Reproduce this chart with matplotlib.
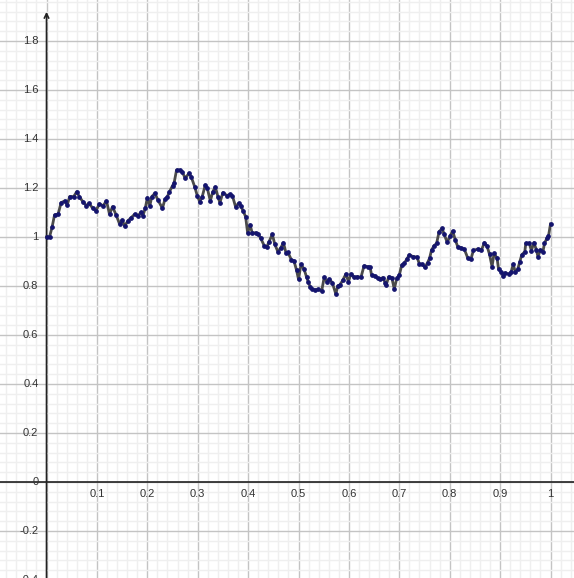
import matplotlib.pyplot as plt
import numpy as np

plt.rcParams['font.family'] = ['Liberation Sans', 'DejaVu Sans']

# sample path of the walk, x in [0, 1]
xs = [0.000, 0.006, 0.011, 0.016, 0.023, 0.029, 0.036, 0.041, 0.046, 0.054,
      0.060, 0.065, 0.072, 0.079, 0.084, 0.092, 0.098, 0.105, 0.112, 0.119,
      0.125, 0.131, 0.138, 0.145, 0.150, 0.155, 0.162, 0.168, 0.175, 0.182,
      0.187, 0.191, 0.196, 0.200, 0.205, 0.209, 0.215, 0.221, 0.230, 0.235,
      0.240, 0.244, 0.250, 0.253, 0.258, 0.264, 0.269, 0.275, 0.283, 0.287,
      0.294, 0.299, 0.304, 0.309, 0.315, 0.319, 0.325, 0.330, 0.335, 0.340,
      0.344, 0.350, 0.358, 0.364, 0.369, 0.375, 0.381, 0.385, 0.390, 0.395,
      0.399, 0.404, 0.408, 0.415, 0.420, 0.425, 0.432, 0.437, 0.441, 0.448,
      0.453, 0.459, 0.465, 0.470, 0.475, 0.479, 0.486, 0.491, 0.496, 0.500,
      0.505, 0.511, 0.516, 0.519, 0.523, 0.527, 0.533, 0.539, 0.546, 0.551,
      0.556, 0.561, 0.567, 0.574, 0.578, 0.582, 0.588, 0.594, 0.599, 0.604,
      0.610, 0.617, 0.624, 0.630, 0.637, 0.642, 0.645, 0.652, 0.657, 0.662,
      0.667, 0.672, 0.674, 0.679, 0.685, 0.690, 0.695, 0.700, 0.705, 0.710,
      0.715, 0.720, 0.727, 0.735, 0.740, 0.745, 0.751, 0.756, 0.760, 0.764,
      0.769, 0.774, 0.779, 0.785, 0.789, 0.795, 0.801, 0.806, 0.811, 0.816,
      0.822, 0.829, 0.836, 0.842, 0.847, 0.856, 0.863, 0.869, 0.874, 0.879,
      0.884, 0.888, 0.894, 0.897, 0.902, 0.906, 0.910, 0.917, 0.922, 0.926,
      0.930, 0.935, 0.939, 0.943, 0.949, 0.951, 0.958, 0.962, 0.967, 0.972,
      0.975, 0.980, 0.985, 0.988, 0.993, 0.996, 1.000]
ys = [1.000, 1.000, 1.040, 1.090, 1.093, 1.140, 1.147, 1.130, 1.165, 1.165,
      1.185, 1.165, 1.144, 1.128, 1.137, 1.117, 1.107, 1.135, 1.127, 1.147,
      1.093, 1.124, 1.090, 1.053, 1.069, 1.045, 1.067, 1.079, 1.093, 1.087,
      1.100, 1.086, 1.117, 1.160, 1.128, 1.165, 1.178, 1.151, 1.117, 1.154,
      1.165, 1.185, 1.209, 1.219, 1.273, 1.273, 1.267, 1.240, 1.260, 1.246,
      1.205, 1.169, 1.144, 1.165, 1.212, 1.199, 1.147, 1.185, 1.204, 1.165,
      1.140, 1.181, 1.169, 1.174, 1.167, 1.124, 1.137, 1.128, 1.107, 1.083,
      1.017, 1.049, 1.017, 1.017, 1.012, 0.995, 0.964, 0.959, 0.978, 1.011,
      0.970, 0.940, 0.956, 0.977, 0.936, 0.937, 0.906, 0.902, 0.865, 0.827,
      0.889, 0.868, 0.836, 0.818, 0.797, 0.786, 0.784, 0.786, 0.780, 0.836,
      0.818, 0.827, 0.814, 0.767, 0.800, 0.804, 0.824, 0.849, 0.818, 0.849,
      0.836, 0.838, 0.836, 0.882, 0.879, 0.876, 0.845, 0.841, 0.831, 0.827,
      0.834, 0.814, 0.804, 0.838, 0.834, 0.788, 0.831, 0.845, 0.886, 0.893,
      0.910, 0.927, 0.920, 0.918, 0.889, 0.889, 0.876, 0.895, 0.913, 0.947,
      0.964, 0.974, 1.022, 1.035, 1.011, 0.978, 1.005, 1.024, 0.988, 0.960,
      0.956, 0.950, 0.913, 0.909, 0.945, 0.951, 0.947, 0.977, 0.963, 0.929,
      0.879, 0.933, 0.913, 0.868, 0.858, 0.841, 0.854, 0.848, 0.858, 0.889,
      0.858, 0.868, 0.899, 0.927, 0.940, 0.974, 0.974, 0.944, 0.977, 0.947,
      0.920, 0.947, 0.940, 0.974, 0.995, 1.004, 1.053]

x_labels = [0.1, 0.2, 0.3, 0.4, 0.5, 0.6, 0.7, 0.8, 0.9, 1]
y_labels = [1.8, 1.6, 1.4, 1.2, 1, 0.8, 0.6, 0.4, 0.2, 0, -0.2, -0.4]

fig = plt.figure(figsize=(5.74, 5.78), dpi=100)
ax = fig.add_axes([0, 0, 1, 1])
for s in ax.spines.values():
    s.set_visible(False)

# grid: major every 0.1 / 0.2, five subdivisions
ax.set_xticks(np.arange(-0.1, 1.11, 0.1))
ax.set_xticks(np.arange(-0.1, 1.11, 0.02), minor=True)
ax.set_yticks(np.arange(-0.4, 2.01, 0.2))
ax.set_yticks(np.arange(-0.4, 2.01, 0.04), minor=True)
ax.grid(which='minor', color='#efefef', lw=1)
ax.grid(which='major', color='#c4c4c4', lw=1)
ax.set_axisbelow(True)
ax.tick_params(which='both', length=0, labelbottom=False, labelleft=False)
# limits after the ticks, otherwise set_xticks widens the view
ax.set_xlim(-0.0923, 1.0466)
ax.set_ylim(-0.3918, 1.967)

# axes through the origin
ax.axhline(0, color='#222222', lw=1.2, zorder=2)
ax.annotate('', xy=(0, 1.93), xytext=(0, -0.45),
            arrowprops=dict(arrowstyle='->', lw=1.2, color='#222222',
                            mutation_scale=8), zorder=2)

for v in x_labels:
    ax.text(v, -0.049, f'{v:g}', ha='center', va='center', fontsize=8,
            color='#333333')
for v in y_labels:
    ax.text(-0.016, v, f'{v:g}', ha='right', va='center', fontsize=8,
            color='#333333')

ax.plot(xs, ys, color='#4a4a4a', lw=2.0, zorder=3)
ax.plot(xs, ys, ls='none', marker='o', ms=2.4, color='#14146e', zorder=4)

fig.savefig('out.png', dpi=100, facecolor='white')
